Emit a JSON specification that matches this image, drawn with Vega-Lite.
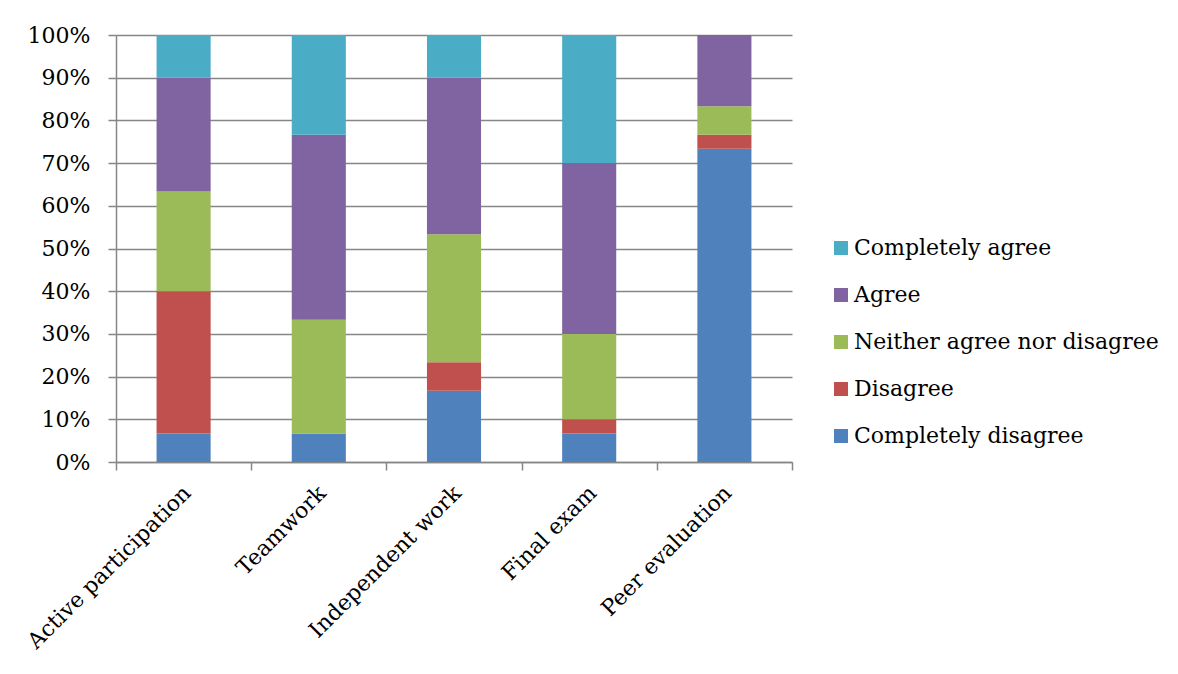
{
  "$schema": "https://vega.github.io/schema/vega-lite/v6.json",
  "width": 676,
  "height": 427,
  "autosize": {"type": "none"},
  "padding": {"left": 116, "top": 35, "right": 386, "bottom": 212},
  "background": "white",
  "data": {
    "values": [
      {"category": "Active participation", "response": "Completely disagree", "level": 1, "count": 2},
      {"category": "Active participation", "response": "Disagree", "level": 2, "count": 10},
      {"category": "Active participation", "response": "Neither agree nor disagree", "level": 3, "count": 7},
      {"category": "Active participation", "response": "Agree", "level": 4, "count": 8},
      {"category": "Active participation", "response": "Completely agree", "level": 5, "count": 3},
      {"category": "Teamwork", "response": "Completely disagree", "level": 1, "count": 2},
      {"category": "Teamwork", "response": "Disagree", "level": 2, "count": 0},
      {"category": "Teamwork", "response": "Neither agree nor disagree", "level": 3, "count": 8},
      {"category": "Teamwork", "response": "Agree", "level": 4, "count": 13},
      {"category": "Teamwork", "response": "Completely agree", "level": 5, "count": 7},
      {"category": "Independent work", "response": "Completely disagree", "level": 1, "count": 5},
      {"category": "Independent work", "response": "Disagree", "level": 2, "count": 2},
      {"category": "Independent work", "response": "Neither agree nor disagree", "level": 3, "count": 9},
      {"category": "Independent work", "response": "Agree", "level": 4, "count": 11},
      {"category": "Independent work", "response": "Completely agree", "level": 5, "count": 3},
      {"category": "Final exam", "response": "Completely disagree", "level": 1, "count": 2},
      {"category": "Final exam", "response": "Disagree", "level": 2, "count": 1},
      {"category": "Final exam", "response": "Neither agree nor disagree", "level": 3, "count": 6},
      {"category": "Final exam", "response": "Agree", "level": 4, "count": 12},
      {"category": "Final exam", "response": "Completely agree", "level": 5, "count": 9},
      {"category": "Peer evaluation", "response": "Completely disagree", "level": 1, "count": 22},
      {"category": "Peer evaluation", "response": "Disagree", "level": 2, "count": 1},
      {"category": "Peer evaluation", "response": "Neither agree nor disagree", "level": 3, "count": 2},
      {"category": "Peer evaluation", "response": "Agree", "level": 4, "count": 5},
      {"category": "Peer evaluation", "response": "Completely agree", "level": 5, "count": 0}
    ]
  },
  "mark": {"type": "bar", "width": {"band": 0.4}},
  "encoding": {
    "x": {
      "field": "category",
      "type": "nominal",
      "sort": null,
      "scale": {"paddingInner": 0, "paddingOuter": 0},
      "axis": {
        "title": null,
        "labelAngle": -45,
        "labelAlign": "right",
        "labelBaseline": "middle",
        "labelPadding": 19,
        "labelOffset": 3,
        "labelLimit": 400,
        "tickBand": "extent",
        "ticks": true,
        "tickSize": 8,
        "grid": false
      }
    },
    "y": {
      "field": "count",
      "type": "quantitative",
      "stack": "normalize",
      "scale": {"domain": [0, 1], "nice": false},
      "axis": {
        "title": null,
        "format": ".0%",
        "values": [0, 0.1, 0.2, 0.3, 0.4, 0.5, 0.6, 0.7, 0.8, 0.9, 1],
        "tickSize": 8,
        "labelPadding": 18,
        "grid": true
      }
    },
    "color": {
      "field": "response",
      "type": "nominal",
      "scale": {
        "domain": ["Completely agree", "Agree", "Neither agree nor disagree", "Disagree", "Completely disagree"],
        "range": ["#4BACC6", "#8064A2", "#9BBB59", "#C0504D", "#4F81BD"]
      },
      "legend": {
        "title": null,
        "orient": "none",
        "legendX": 714,
        "legendY": 202,
        "symbolType": "square",
        "symbolSize": 196,
        "symbolStrokeWidth": 0,
        "labelOffset": 2,
        "rowPadding": 25
      }
    },
    "order": {"field": "level", "type": "quantitative", "sort": "ascending"}
  },
  "config": {
    "view": {"stroke": null},
    "font": "DejaVu Serif",
    "axis": {
      "labelFont": "DejaVu Serif",
      "labelFontSize": 22,
      "labelColor": "#000000",
      "domainColor": "#868686",
      "domainWidth": 1.5,
      "tickColor": "#868686",
      "tickWidth": 1.5,
      "gridColor": "#868686",
      "gridWidth": 1.5,
      "gridOpacity": 1
    },
    "legend": {
      "labelFont": "DejaVu Serif",
      "labelFontSize": 22,
      "labelColor": "#000000",
      "labelLimit": 400
    }
  }
}
